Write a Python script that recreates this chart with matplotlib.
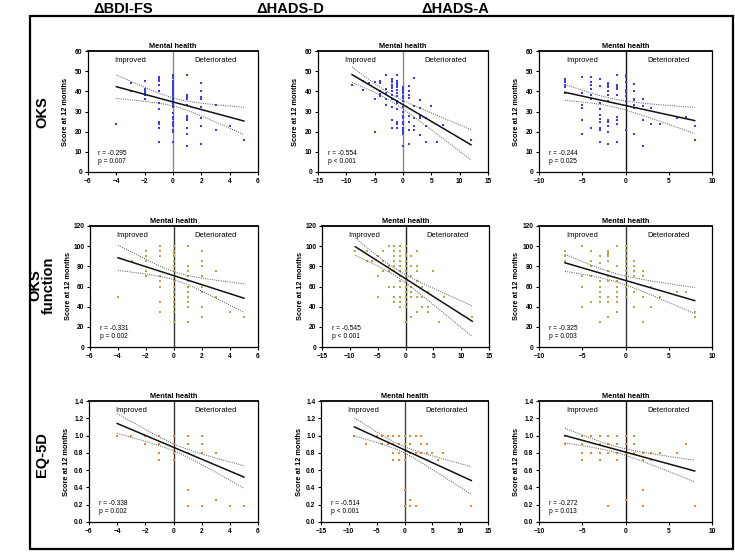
import numpy as np
import matplotlib
matplotlib.use('Agg')
import matplotlib.pyplot as plt
from matplotlib.patches import Rectangle

plt.rcParams['font.family'] = ['Liberation Sans', 'DejaVu Sans']

W, H = 735, 553

col_titles = ['ΔBDI-FS', 'ΔHADS-D', 'ΔHADS-A']
row_titles = ['OKS', 'OKS\nfunction', 'EQ-5D']
x_limits = [(-6, 6), (-15, 15), (-10, 10)]
x_ticks = [[-6, -4, -2, 0, 2, 4, 6], [-15, -10, -5, 0, 5, 10, 15], [-10, -5, 0, 5, 10]]
y_limits = [(0, 60), (0, 120), (0, 1.4)]
y_ticks = [[0, 10, 20, 30, 40, 50, 60],
           [0, 20, 40, 60, 80, 100, 120],
           [0.0, 0.2, 0.4, 0.6, 0.8, 1.0, 1.2, 1.4]]
y_ticklabels = [[str(v) for v in y_ticks[0]], [str(v) for v in y_ticks[1]],
                ['%.1f' % v for v in y_ticks[2]]]
point_colors = ['#3b3bf5', '#b9a64a', '#f0852a']

# ---- scatter data: change score -> list of 12-month scores ----
oks_bdi = {-4: [24], -3: [44, 40], -2: [45, 41, 40, 39, 38, 36],
           -1: [47, 46, 45, 43, 40, 34, 31, 25, 24, 22, 15],
           0: [48, 47.5, 46.5, 45, 44, 43, 42, 41, 40, 39, 38, 37, 36, 35, 34, 33, 32,
               29.5, 27.5, 26.5, 25, 24, 23, 21, 20, 15],
           1: [48, 38, 37, 36, 33, 28, 27, 26, 22, 19, 13],
           2: [44, 40, 37, 36, 32, 27, 23, 14], 3: [33, 21], 4: [23], 5: [16]}
oks_hadsd = {-9: [43], -7: [45, 40.5], -6: [44], -5: [44.5, 36, 20],
             -4: [45, 44, 40, 38.5, 37.5], -3: [48, 41, 39, 36, 33],
             -2: [46, 45, 44.5, 43, 42, 41.5, 40, 38, 36, 32, 26, 22],
             -1: [48, 45, 44, 43, 42, 40.5, 39, 37.5, 35, 34, 31, 25, 24, 22],
             0: [42, 41, 40, 39, 37.5, 36.5, 35, 32, 30, 28, 27, 25, 24, 22, 21, 20, 19, 13],
             1: [42.5, 40, 38, 36.5, 28, 25, 21, 14], 2: [46.5, 32.5, 27, 23, 21],
             3: [35.5, 31.5, 28, 27, 18.5], 4: [27, 23, 15], 5: [32.5], 6: [15],
             7: [23.5], 12: [16]}
oks_hadsa = {-7: [46.3, 45, 44.5, 43.3, 42, 39.3], -5: [47, 39, 33, 31.5, 26, 19],
             -4: [47, 44.6, 43.3, 41, 38, 36, 22],
             -3: [46, 42.5, 34, 31, 28.4, 26.4, 25, 22, 20.7, 15],
             -2: [44.3, 43, 42, 40, 38, 35, 26, 25, 22.6, 19.7, 14],
             -1: [48, 43.3, 42, 41, 38, 27.3, 26, 24, 15],
             0: [48, 47, 44.6, 40.8, 39.8, 37.8, 35, 21],
             1: [43.4, 40, 36.4, 35.5, 33, 31.8, 19], 2: [36, 32.6, 26, 13],
             3: [31.8, 24], 4: [24], 6: [27], 7: [27.3], 8: [23, 16]}
okf_bdi = {-4: [50], -3: [85], -2: [95, 90, 85, 75, 70],
           -1: [100, 95, 90, 70, 65, 60, 45, 35],
           0: [100, 95, 92, 90, 85, 80, 75, 70, 65, 60, 55, 50, 45, 40, 35, 25],
           1: [100, 80, 75, 70, 65, 60, 55, 50, 45, 40, 25],
           2: [95, 85, 80, 70, 60, 55, 40, 30], 3: [75, 50], 4: [35], 5: [30]}
okf_hadsd = {-9: [95], -7: [95, 85], -6: [85], -5: [90, 70, 50], -4: [95, 85, 75],
             -3: [100, 80, 75, 60], -2: [100, 95, 90, 85, 80, 75, 60, 50, 45],
             -1: [100, 95, 90, 85, 80, 75, 70, 65, 60, 50, 45, 40],
             0: [100, 92, 90, 85, 80, 75, 70, 65, 60, 55, 50, 45, 40, 25],
             1: [90, 80, 70, 60, 55, 50, 30], 2: [95, 80, 75, 65, 50, 35],
             3: [60, 50, 40], 4: [55, 40, 35], 5: [75], 6: [25], 7: [50], 12: [30]}
okf_hadsa = {-7: [95, 90, 85], -5: [100, 70, 60, 40], -4: [95, 85, 80, 70, 45],
             -3: [90, 83, 65, 60, 55, 50, 45, 25],
             -2: [95, 93, 91, 90, 85, 75, 70, 65, 50, 45, 30],
             -1: [100, 80, 65, 60, 55, 50, 45, 35],
             0: [100, 95, 90, 85, 80, 75, 70, 65, 60, 50],
             1: [85, 80, 75, 70, 55, 40], 2: [75, 70, 50, 25], 3: [60, 40], 4: [50],
             6: [55], 7: [55], 8: [35, 30]}
eq_bdi = {-4: [1.0], -3: [1.0], -2: [1.0, 0.9], -1: [1.0, 0.9, 0.8, 0.72],
          0: [1.0, 0.9, 0.8, 0.72], 1: [1.0, 0.9, 0.8, 0.37, 0.19],
          2: [1.0, 0.9, 0.8, 0.19], 3: [0.8, 0.26], 4: [0.19], 5: [0.19]}
eq_hadsd = {-9: [1.0], -7: [0.9], -5: [1.0], -4: [1.0, 0.9], -3: [1.0, 0.9],
            -2: [1.0, 0.9, 0.8, 0.72], -1: [1.0, 0.9, 0.8, 0.72],
            0: [1.0, 0.9, 0.8, 0.72, 0.37, 0.19], 1: [1.0, 0.9, 0.8, 0.26, 0.19],
            2: [1.0, 0.8, 0.19], 3: [1.0, 0.9, 0.8], 4: [0.9, 0.8, 0.72], 5: [0.8],
            6: [0.72], 7: [0.8], 12: [0.19]}
eq_hadsa = {-7: [1.0, 0.9], -5: [1.0, 0.9, 0.8, 0.72], -4: [1.0, 0.8],
            -3: [1.0, 0.9, 0.8, 0.72], -2: [1.0, 0.9, 0.8, 0.19],
            -1: [1.0, 0.9, 0.8, 0.72], 0: [1.0, 0.9, 0.8, 0.26], 1: [1.0, 0.9, 0.8],
            2: [0.8, 0.72, 0.37, 0.19], 3: [0.8, 0.72], 4: [0.8], 6: [0.8], 7: [0.9],
            8: [0.19]}
panel_data = [[oks_bdi, oks_hadsd, oks_hadsa],
              [okf_bdi, okf_hadsd, okf_hadsa],
              [eq_bdi, eq_hadsd, eq_hadsa]]

# ---- regression results (row-major) ----
r_values = ['-0.295', '-0.554', '-0.244', '-0.331', '-0.545', '-0.325', '-0.338', '-0.514', '-0.272']
p_texts = ['p = 0.007', 'p < 0.001', 'p = 0.025', 'p = 0.002', 'p < 0.001', 'p = 0.003',
           'p = 0.002', 'p < 0.001', 'p = 0.013']
fit_x0 = [-4, -9, -7, -4, -9, -7, -4, -9, -7]
fit_x1 = [5, 12, 8, 5, 12, 8, 5, 12, 8]
fit_y0 = [42.3, 48.3, 39.5, 88.5, 99.4, 83.5, 1.14, 1.10, 1.00]
fit_y1 = [25.3, 13.5, 25.5, 48.4, 25.5, 46.0, 0.52, 0.48, 0.59]
ci_h0 = [5.85, 3.8, 4.0, 12.5, 8.5, 8.5, 0.115, 0.105, 0.085]
ci_h1 = [6.75, 7.5, 6.5, 14.25, 15.25, 13.0, 0.13, 0.16, 0.125]
ci_hc = [2.0, 1.8, 2.0, 4.0, 3.5, 4.0, 0.04, 0.035, 0.035]
zero_line_colors = ['#8a8a8a', '#8a8a8a', '#111111',
                    '#333333', '#222222', '#333333',
                    '#333333', '#444444', '#111111']

# ---- layout (pixels) ----
col_left = [[88, 318, 539], [90, 322, 539], [89, 321, 539]]
col_right = [[258, 488, 712], [258, 489, 712], [258, 488, 712]]
row_top = [51, 226, 401]
ax_h = 121

fig = plt.figure(figsize=(W / 100, H / 100), dpi=100)

for i in range(3):
    for j in range(3):
        k = i * 3 + j
        l, r = col_left[i][j], col_right[i][j]
        t = row_top[i]
        ax = fig.add_axes([l / W, 1 - (t + ax_h) / H, (r - l) / W, ax_h / H])
        d = panel_data[i][j]
        xs = [x for x, ys in d.items() for _ in ys]
        ys = [y for _, yl in d.items() for y in yl]
        ax.scatter(xs, ys, s=3.5, marker='s', color=point_colors[i], linewidths=0, zorder=3)
        # regression + CI
        x0, x1 = fit_x0[k], fit_x1[k]
        xx = np.linspace(x0, x1, 100)
        slope = (fit_y1[k] - fit_y0[k]) / (x1 - x0)
        yy = fit_y0[k] + slope * (xx - x0)
        h0, h1, hc = ci_h0[k], ci_h1[k], ci_hc[k]
        rr = np.sqrt((h0 ** 2 - hc ** 2) / (h1 ** 2 - hc ** 2))
        xm = (x0 + rr * x1) / (1 + rr)
        kk = (h0 ** 2 - hc ** 2) / (x0 - xm) ** 2
        hw = np.sqrt(hc ** 2 + kk * (xx - xm) ** 2)
        ax.plot(xx, yy, color='#111111', lw=1.1, zorder=4)
        ax.plot(xx, yy + hw, color='#555555', lw=0.7, ls=(0, (1, 1.3)), zorder=4)
        ax.plot(xx, yy - hw, color='#555555', lw=0.7, ls=(0, (1, 1.3)), zorder=4)
        ax.axvline(0, color=zero_line_colors[k], lw=1.0, zorder=2)
        ax.set_xlim(*x_limits[j])
        ax.set_ylim(*y_limits[i])
        ax.set_xticks(x_ticks[j])
        ax.set_yticks(y_ticks[i])
        ax.set_yticklabels(y_ticklabels[i])
        ax.tick_params(labelsize=4.8, length=2.5, width=0.8, pad=1.5)
        for lab in ax.get_xticklabels() + ax.get_yticklabels():
            lab.set_fontweight('bold')
        for s in ax.spines.values():
            s.set_linewidth(0.9)
        ax.spines['top'].set_linewidth(1.3)
        ax.set_title('Mental health', fontsize=5.3, fontweight='bold', pad=2)
        ax.set_ylabel('Score at 12 months', fontsize=5.3, fontweight='bold')
        ax.yaxis.set_label_coords(-0.11, 0.5)
        ax.text(0.25, 0.92, 'Improved', transform=ax.transAxes, ha='center', va='center', fontsize=5.5)
        ax.text(0.75, 0.92, 'Deteriorated', transform=ax.transAxes, ha='center', va='center', fontsize=5.5)
        ax.text(0.06, 0.15, 'r = ' + r_values[k], transform=ax.transAxes, ha='left', va='center', fontsize=4.8)
        ax.text(0.06, 0.09, p_texts[k], transform=ax.transAxes, ha='left', va='center', fontsize=4.8)

# column titles
col_title_x = [123, 290, 455]
for j in range(3):
    fig.text(col_title_x[j] / W, 1 - 9 / H, col_titles[j], ha='center', va='center',
             fontsize=10.5, fontweight='bold')
# row titles
row_title_y = [112, 285, 455]
for i in range(3):
    fig.text(42 / W, 1 - row_title_y[i] / H, row_titles[i], ha='center', va='center',
             rotation=90, fontsize=10.5, fontweight='bold', linespacing=1.0)

fig.patches.append(Rectangle((30 / W, 1 - 549 / H), (733 - 30) / W, (549 - 16) / H,
                             transform=fig.transFigure, fill=False, lw=1.6, ec='black'))

fig.savefig('out.png', dpi=100)
